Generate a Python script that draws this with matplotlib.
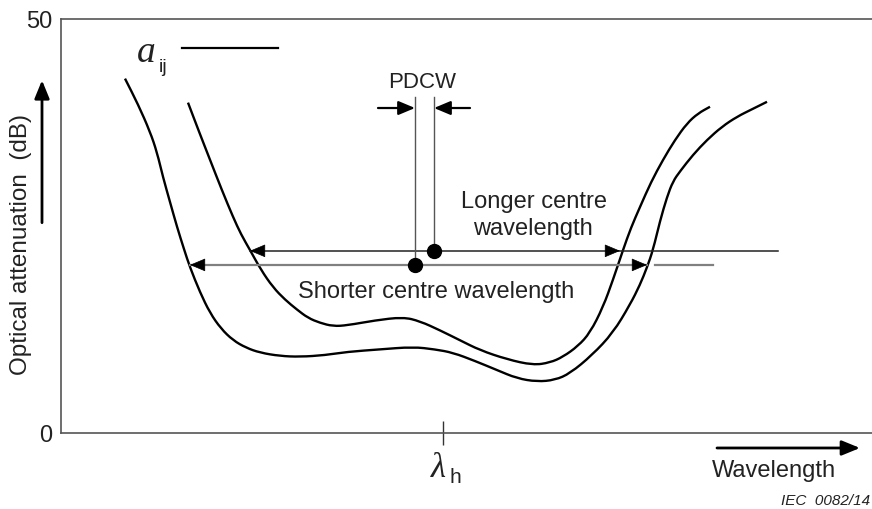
import numpy as np
import matplotlib
matplotlib.use('Agg')
import matplotlib.pyplot as plt
from matplotlib.path import Path
from matplotlib.patches import PathPatch

plt.rcParams['font.family'] = ['Liberation Sans', 'DejaVu Sans']

# attenuation curves (wavelength in arbitrary units, attenuation in dB)
wl_short = [64, 77, 89, 96, 102, 109, 116, 123, 129, 139, 149, 160, 172, 185, 199, 219,
            239, 264, 286, 319, 352, 374, 392, 414, 436, 456, 476, 494, 509, 531, 552,
            569, 579, 586, 592, 599, 606, 612, 619, 632, 646, 661, 676, 691, 706]
att_short = [42.8, 39.7, 36.4, 33.9, 30.9, 27.9, 24.9, 22.2, 20.0, 17.0, 14.5, 12.6, 11.2,
             10.3, 9.7, 9.3, 9.2, 9.4, 9.8, 10.1, 10.4, 10.1, 9.7, 8.7, 7.6, 6.6, 6.2, 6.4,
             7.2, 9.4, 12.1, 15.5, 17.9, 20.0, 22.1, 25.6, 28.5, 30.4, 31.6, 33.6, 35.4,
             37.0, 38.2, 39.1, 40.0]

wl_long = [127, 138, 149, 161, 172, 180, 189, 200, 212, 224, 236, 247, 259, 272, 286, 314,
           342, 359, 379, 399, 419, 446, 472, 489, 502, 517, 529, 542, 552, 562, 570, 579,
           590, 602, 614, 626, 637, 649]
att_long = [39.9, 36.4, 33.0, 29.3, 26.1, 24.0, 22.1, 19.7, 17.6, 16.1, 14.9, 13.9, 13.3,
            12.9, 13.0, 13.6, 14.0, 13.5, 12.4, 11.2, 10.0, 8.9, 8.2, 8.5, 9.2, 10.5, 12.1,
            15.2, 18.5, 22.1, 24.8, 27.3, 30.3, 33.0, 35.4, 37.4, 38.6, 39.4]

# centre wavelengths and the levels they are measured at
short_centre, short_level = 354, 20.3
long_centre, long_level = 373, 22.0
short_edges = (129, 586)
long_edges = (189, 559)
lam_h = 382

fig = plt.figure(figsize=(8.72, 5.09), dpi=100)
ax = fig.add_axes([61 / 872, 76 / 509, 811 / 872, 414 / 509])
ax.set_xlim(0, 811)
ax.set_ylim(0, 50)

for s in ['left', 'top', 'bottom']:
    ax.spines[s].set_color('#555555')
    ax.spines[s].set_linewidth(1.2)
ax.spines['right'].set_visible(False)

ax.set_yticks([0, 50])
ax.set_yticklabels(['0', '50'], fontsize=17, color='#222222')
ax.tick_params(axis='y', length=0, pad=6)
ax.set_xticks([lam_h])
ax.set_xticklabels([''])
ax.tick_params(axis='x', direction='inout', length=17, width=1.0, color='#333333')


def smooth_curve(xs, ys):
    # quadratic bezier through the midpoints, control points at the read values
    pts = np.column_stack([xs, ys]).astype(float)
    mids = (pts[:-1] + pts[1:]) / 2
    verts = [pts[0], mids[0]]
    codes = [Path.MOVETO, Path.LINETO]
    for i in range(1, len(pts) - 1):
        verts += [pts[i], mids[i]]
        codes += [Path.CURVE3, Path.CURVE3]
    verts.append(pts[-1])
    codes.append(Path.LINETO)
    ax.add_patch(PathPatch(Path(verts, codes), fill=False, edgecolor='black', lw=1.7,
                           capstyle='butt'))


smooth_curve(wl_short, att_short)
smooth_curve(wl_long, att_long)

# level lines
ax.plot([long_edges[0], 717], [long_level, long_level], color='#222222', lw=1.1)
ax.plot([short_edges[0], short_edges[1]], [short_level, short_level], color='#808080', lw=1.6)
ax.plot([594, 652], [short_level, short_level], color='#808080', lw=1.6)


def head(x, y, direction):
    ax.annotate('', xy=(x, y), xytext=(x - 14 * direction, y),
                arrowprops=dict(arrowstyle='-|>,head_length=1.0,head_width=0.42',
                                mutation_scale=10, color='black', lw=0.5,
                                shrinkA=0, shrinkB=0))


head(long_edges[0], long_level, -1)
head(long_edges[1], long_level, 1)
head(short_edges[0], short_level, -1)
head(short_edges[1], short_level, 1)

# centre markers and PDCW
ax.plot([short_centre, short_centre], [short_level, 40.6], color='#555555', lw=1.0)
ax.plot([long_centre, long_centre], [long_level, 40.6], color='#555555', lw=1.0)
ax.plot([short_centre, long_centre], [short_level, long_level], 'o', color='black',
        markersize=10, clip_on=False)
for tail, tip in [(317, short_centre), (409, long_centre)]:
    ax.annotate('', xy=(tip, 39.25), xytext=(tail, 39.25),
                arrowprops=dict(arrowstyle='-|>,head_length=1.0,head_width=0.42',
                                mutation_scale=10, color='black', lw=1.6,
                                shrinkA=0, shrinkB=0))
ax.text(361, 41.7, 'PDCW', fontsize=16, ha='center', va='baseline', color='#222222')

ax.text(473, 27.2, 'Longer centre', fontsize=17, ha='center', va='baseline', color='#222222')
ax.text(472, 23.9, 'wavelength', fontsize=17, ha='center', va='baseline', color='#222222')
ax.text(375, 16.3, 'Shorter centre wavelength', fontsize=17, ha='center', va='baseline',
        color='#222222')

# a_ij legend
ax.text(76, 44.8, 'a', fontsize=27, family='Liberation Serif', style='italic',
        ha='left', va='baseline', color='#222222')
ax.text(98, 43.6, 'ij', fontsize=14, ha='left', va='baseline', color='#222222')
ax.plot([121, 217], [46.5, 46.5], color='black', lw=1.6)

# axis labels and arrows
ax.text(-40, 22.8, 'Optical attenuation  (dB)', fontsize=17.5, rotation=90, ha='center',
        va='center', color='#222222', clip_on=False)
ax.annotate('', xy=(-19, 42.6), xytext=(-19, 25.4), annotation_clip=False,
            arrowprops=dict(arrowstyle='-|>,head_length=1.1,head_width=0.45',
                            mutation_scale=10, color='black', lw=2.0,
                            shrinkA=0, shrinkB=0))
ax.annotate('', xy=(799, -1.81), xytext=(656, -1.81), annotation_clip=False,
            arrowprops=dict(arrowstyle='-|>,head_length=1.1,head_width=0.45',
                            mutation_scale=10, color='black', lw=2.0,
                            shrinkA=0, shrinkB=0))
ax.text(651, -5.31, 'Wavelength', fontsize=17, ha='left', va='baseline', color='#222222',
        clip_on=False)

ax.text(370, -5.31, 'λ', fontsize=25, family='Liberation Serif', style='italic',
        ha='left', va='baseline', color='#222222', clip_on=False)
ax.text(388, -6.04, 'h', fontsize=15, ha='left', va='baseline', color='#222222',
        clip_on=False)

ax.text(809, -8.7, 'IEC  0082/14', fontsize=11, style='italic', ha='right', va='baseline',
        color='#222222', clip_on=False)

fig.savefig('out.png', dpi=100)
